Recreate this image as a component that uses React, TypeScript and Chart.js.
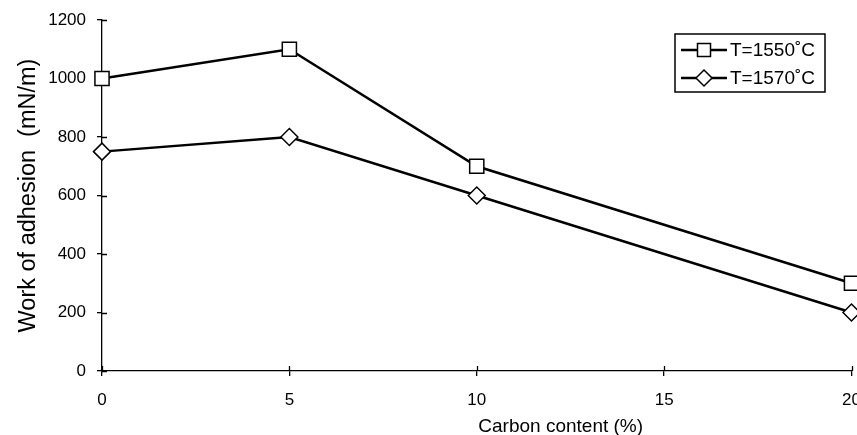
import React, { useEffect, useRef } from "react";
import { Chart, registerables } from "chart.js";

Chart.register(...registerables);

const carbon = [0, 5, 10, 20];
const t1550 = [1000, 1100, 700, 300];
const t1570 = [750, 800, 600, 200];
const seriesLabels = ["T=1550˚C", "T=1570˚C"];
const xTicks = [0, 5, 10, 15, 20];
const yTicks = [0, 200, 400, 600, 800, 1000, 1200];
const xTitle = "Carbon content (%)";
const yTitle = "Work of adhesion  (mN/m)";

const FONT = "'Liberation Sans', Arial, Helvetica, sans-serif";

const innerTicks = {
  id: "innerTicks",
  beforeDatasetsDraw(chart: any) {
    const ctx = chart.ctx;
    const x = chart.scales.x;
    const y = chart.scales.y;
    ctx.save();
    ctx.strokeStyle = "#000";
    ctx.lineWidth = 1.3;
    ctx.beginPath();
    xTicks.forEach((v) => {
      const px = Math.round(x.getPixelForValue(v)) + 0.5;
      ctx.moveTo(px, y.bottom);
      ctx.lineTo(px, y.bottom - 5);
    });
    yTicks.forEach((v) => {
      const py = Math.round(y.getPixelForValue(v)) + 0.5;
      ctx.moveTo(x.left, py);
      ctx.lineTo(x.left + 5, py);
    });
    ctx.stroke();
    // x-axis title (sits right of centre, as in the reference)
    ctx.fillStyle = "#000";
    ctx.font = `19px ${FONT}`;
    ctx.textAlign = "center";
    ctx.textBaseline = "alphabetic";
    const cx = chart.chartArea.left + (chart.chartArea.right - chart.chartArea.left) * 0.612;
    ctx.fillText(xTitle, cx, 432);
    ctx.restore();
  },
};

const boxLegend = {
  id: "boxLegend",
  afterDraw(chart: any) {
    const ctx = chart.ctx;
    const bx = 675, by = 34, bw = 150, bh = 58;
    ctx.save();
    ctx.fillStyle = "#fff";
    ctx.fillRect(bx, by, bw, bh);
    ctx.strokeStyle = "#000";
    ctx.lineWidth = 1.5;
    ctx.strokeRect(bx, by, bw, bh);
    chart.data.datasets.forEach((ds: any, i: number) => {
      const ly = 50 + i * 28;
      ctx.strokeStyle = "#000";
      ctx.lineWidth = 2.5;
      ctx.beginPath();
      ctx.moveTo(681, ly);
      ctx.lineTo(727, ly);
      ctx.stroke();
      ctx.fillStyle = "#fff";
      ctx.lineWidth = 1.5;
      ctx.beginPath();
      if (ds.pointStyle === "rect") {
        ctx.rect(704 - 6.5, ly - 6.5, 13, 13);
      } else {
        ctx.moveTo(704, ly - 8);
        ctx.lineTo(712, ly);
        ctx.lineTo(704, ly + 8);
        ctx.lineTo(696, ly);
        ctx.closePath();
      }
      ctx.fill();
      ctx.stroke();
      ctx.fillStyle = "#000";
      ctx.font = `19px ${FONT}`;
      ctx.textBaseline = "middle";
      ctx.textAlign = "left";
      ctx.fillText(ds.label, 730, ly + 1);
    });
    ctx.restore();
  },
};

export default function App() {
  const ref = useRef<HTMLCanvasElement>(null);
  useEffect(() => {
    if (!ref.current) return;
    const chart = new Chart(ref.current, {
      type: "line",
      data: {
        datasets: [
          {
            label: seriesLabels[0],
            data: carbon.map((c, i) => ({ x: c, y: t1550[i] })),
            borderColor: "#000",
            borderWidth: 2.5,
            pointStyle: "rect",
            pointRadius: 10,
            pointBackgroundColor: "#fff",
            pointBorderColor: "#000",
            pointBorderWidth: 1.5,
            clip: false as any,
            tension: 0,
          },
          {
            label: seriesLabels[1],
            data: carbon.map((c, i) => ({ x: c, y: t1570[i] })),
            borderColor: "#000",
            borderWidth: 2.5,
            pointStyle: "rectRot",
            pointRadius: 8.5,
            pointBackgroundColor: "#fff",
            pointBorderColor: "#000",
            pointBorderWidth: 1.5,
            clip: false as any,
            tension: 0,
          },
        ],
      },
      options: {
        responsive: false,
        animation: false,
        layout: { padding: { top: 20, right: 0, left: 0, bottom: 0 } },
        plugins: { legend: { display: false }, tooltip: { enabled: false } },
        scales: {
          x: {
            type: "linear",
            min: 0,
            max: 20,
            afterBuildTicks: (s: any) => {
              s.ticks = xTicks.map((v) => ({ value: v }));
            },
            afterFit: (s: any) => {
              s.height = 64;
              s.paddingRight = 0;
              s.paddingLeft = 0;
            },
            ticks: {
              color: "#000",
              font: { family: FONT, size: 17 },
              padding: 14,
              maxRotation: 0,
              callback: (v: any) => String(v),
            },
            grid: { drawOnChartArea: false, color: "#000", tickLength: 5, lineWidth: 1.3 },
            border: { color: "#000", width: 1.3 },
            title: { display: false },
          },
          y: {
            type: "linear",
            min: 0,
            max: 1200,
            afterBuildTicks: (s: any) => {
              s.ticks = yTicks.map((v) => ({ value: v }));
            },
            afterFit: (s: any) => {
              s.width = 102;
              s.paddingTop = 0;
              s.paddingBottom = 0;
              s.paddingLeft = 0;
              s.paddingRight = 0;
            },
            ticks: {
              color: "#000",
              font: { family: FONT, size: 17 },
              padding: 11,
              callback: (v: any) => String(v),
            },
            grid: { drawOnChartArea: false, color: "#000", tickLength: 5, lineWidth: 1.3 },
            border: { color: "#000", width: 1.3 },
            title: {
              display: true,
              text: yTitle,
              color: "#000",
              font: { family: FONT, size: 23.5 },
              padding: { top: 14, bottom: 0 },
            },
          },
        },
      },
      plugins: [innerTicks, boxLegend],
    });
    return () => chart.destroy();
  }, []);
  return (
    <div
      style={{
        position: "absolute",
        left: 0,
        top: 0,
        width: 857,
        height: 435,
        overflow: "hidden",
        background: "#fff",
      }}
    >
      <canvas ref={ref} width={863} height={435} style={{ display: "block" }} />
    </div>
  );
}
